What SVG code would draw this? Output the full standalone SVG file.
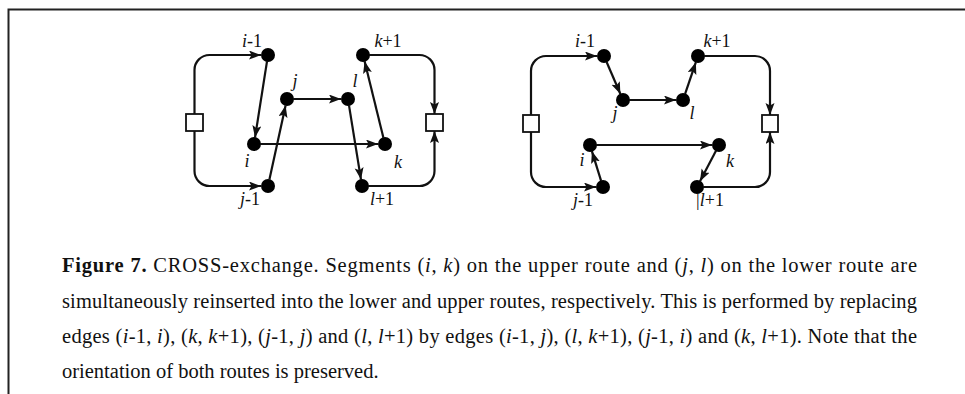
<svg xmlns="http://www.w3.org/2000/svg" width="965" height="394" viewBox="0 0 965 394">
<style>
.e{fill:none;stroke:#111;stroke-width:2.2}
.a{marker-end:url(#arr)}
.n{fill:#000}
.b{fill:#fff;stroke:#111;stroke-width:1.8}
.lb{font-family:"Liberation Serif","Times New Roman",serif;font-size:18px;fill:#111;text-anchor:middle}
.cp{font-family:"Liberation Serif","Times New Roman",serif;font-size:20.5px;fill:#111}
.it{font-style:italic}
</style>
<defs>
<marker id="arr" markerUnits="userSpaceOnUse" markerWidth="14" markerHeight="10" refX="12" refY="4.5" orient="auto">
<path d="M0,0 L12,4.5 L0,9 L2.5,4.5 Z" fill="#111"/>
</marker>
</defs>
<rect width="965" height="394" fill="#fff"/>
<path d="M8.5,394 V9.5 H965" fill="none" stroke="#222" stroke-width="2"/>

<g id="connectors">
<path class="e a" d="M194.5,114 V70 A15,15 0 0 1 209.5,55 H261"/>
<path class="e a" d="M194.5,131 V171 A15,15 0 0 0 209.5,186 H261"/>
<path class="e a" d="M369.5,55 H419.5 A15,15 0 0 1 434.5,70 V114"/>
<path class="e a" d="M368.5,186 H419.5 A15,15 0 0 0 434.5,171 V131"/>
<path class="e a" d="M267,61.4 L255,137.6"/>
<path class="e a" d="M260.5,144 L378,144"/>
<path class="e a" d="M383.4,137.7 L364.6,61.3"/>
<path class="e a" d="M269.4,179.6 L285.6,105.4"/>
<path class="e a" d="M293.5,99 L341,99"/>
<path class="e a" d="M349,105.4 L361,179.6"/>
<path class="e a" d="M531,115 V71 A15,15 0 0 1 546,56 H597"/>
<path class="e a" d="M531,132 V172 A15,15 0 0 0 546,187 H596"/>
<path class="e a" d="M704.5,56 H755 A15,15 0 0 1 770,71 V115"/>
<path class="e a" d="M703.5,187 H755 A15,15 0 0 0 770,172 V132"/>
<path class="e a" d="M606.6,62 L620.4,94"/>
<path class="e a" d="M629.5,100 L676,100"/>
<path class="e a" d="M685.1,93.9 L695.9,62.2"/>
<path class="e a" d="M601.1,180.8 L591.9,151.2"/>
<path class="e a" d="M596.5,145 L712,145"/>
<path class="e a" d="M716,150.8 L700,181.2"/>
</g>

<g id="L_depot_left"><rect class="b" x="186" y="114" width="17" height="17"/></g>
<g id="L_depot_right"><rect class="b" x="426" y="114" width="17" height="17"/></g>
<g id="L_im1"><circle class="n" cx="268" cy="55" r="7"/><text class="lb" x="252" y="47"><tspan class="it">i</tspan>-1</text></g>
<g id="L_kp1"><circle class="n" cx="363" cy="55" r="7"/><text class="lb" x="388" y="47"><tspan class="it">k</tspan>+1</text></g>
<g id="L_j"><circle class="n" cx="287" cy="99" r="7"/><text class="lb it" x="295" y="87">j</text></g>
<g id="L_l"><circle class="n" cx="348" cy="99" r="7"/><text class="lb it" x="355" y="87">l</text></g>
<g id="L_i"><circle class="n" cx="254" cy="144" r="7"/><text class="lb it" x="247" y="167">i</text></g>
<g id="L_k"><circle class="n" cx="385" cy="144" r="7"/><text class="lb it" x="398" y="168">k</text></g>
<g id="L_jm1"><circle class="n" cx="268" cy="186" r="7"/><text class="lb" x="250" y="205"><tspan class="it">j</tspan>-1</text></g>
<g id="L_lp1"><circle class="n" cx="362" cy="186" r="7"/><text class="lb" x="382" y="205"><tspan class="it">l</tspan>+1</text></g>

<g id="R_depot_left"><rect class="b" x="523" y="115" width="16" height="17"/></g>
<g id="R_depot_right"><rect class="b" x="762" y="115" width="16" height="17"/></g>
<g id="R_im1"><circle class="n" cx="604" cy="56" r="7"/><text class="lb" x="585" y="47"><tspan class="it">i</tspan>-1</text></g>
<g id="R_kp1"><circle class="n" cx="698" cy="56" r="7"/><text class="lb" x="717" y="47"><tspan class="it">k</tspan>+1</text></g>
<g id="R_j"><circle class="n" cx="623" cy="100" r="7"/><text class="lb it" x="615" y="119">j</text></g>
<g id="R_l"><circle class="n" cx="683" cy="100" r="7"/><text class="lb it" x="692" y="119">l</text></g>
<g id="R_i"><circle class="n" cx="590" cy="145" r="7"/><text class="lb it" x="582" y="166">i</text></g>
<g id="R_k"><circle class="n" cx="719" cy="145" r="7"/><text class="lb it" x="730" y="167">k</text></g>
<g id="R_jm1"><circle class="n" cx="603" cy="187" r="7"/><text class="lb" x="583" y="206"><tspan class="it">j</tspan>-1</text></g>
<g id="R_lp1"><circle class="n" cx="697" cy="187" r="7"/><text class="lb" x="710" y="206">|<tspan class="it">l</tspan>+1</text></g>

<g id="caption">
<text class="cp" x="62" y="272" textLength="855" lengthAdjust="spacing"><tspan font-weight="bold">Figure 7.</tspan> CROSS-exchange. Segments (<tspan class="it">i</tspan>, <tspan class="it">k</tspan>) on the upper route and (<tspan class="it">j</tspan>, <tspan class="it">l</tspan>) on the lower route are</text>
<text class="cp" x="62" y="307.5" textLength="855" lengthAdjust="spacing">simultaneously reinserted into the lower and upper routes, respectively. This is performed by replacing</text>
<text class="cp" x="62" y="343" textLength="855" lengthAdjust="spacing">edges (<tspan class="it">i</tspan>-1, <tspan class="it">i</tspan>), (<tspan class="it">k</tspan>, <tspan class="it">k</tspan>+1), (<tspan class="it">j</tspan>-1, <tspan class="it">j</tspan>) and (<tspan class="it">l</tspan>, <tspan class="it">l</tspan>+1) by edges (<tspan class="it">i</tspan>-1, <tspan class="it">j</tspan>), (<tspan class="it">l</tspan>, <tspan class="it">k</tspan>+1), (<tspan class="it">j</tspan>-1, <tspan class="it">i</tspan>) and (<tspan class="it">k</tspan>, <tspan class="it">l</tspan>+1). Note that the</text>
<text class="cp" x="62" y="378">orientation of both routes is preserved.</text>
</g>
</svg>
